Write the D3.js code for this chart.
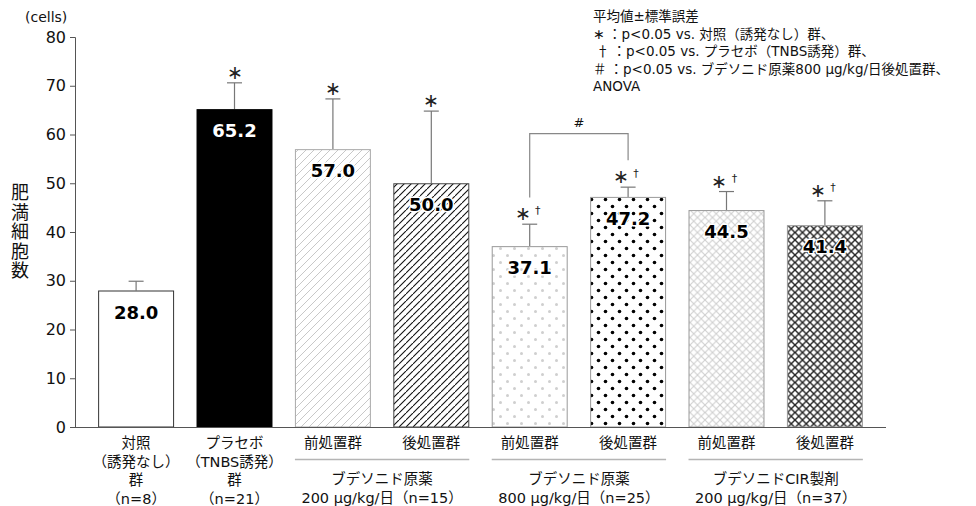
<!DOCTYPE html>
<html>
<head>
<meta charset="utf-8">
<script src="https://cdn.jsdelivr.net/npm/d3@7"></script>
<style>
  html, body { margin: 0; padding: 0; background: #fff; }
  svg { display: block; font-family: "DejaVu Sans", "Noto Sans CJK JP", sans-serif; }
  .sym { font-family: "Noto Sans CJK JP", sans-serif; }
</style>
</head>
<body>
<svg id="chart" width="976" height="506"></svg>
<script>
// Mast cell counts per group (mean ± SE)
const groupKeys = ["ctrl", "placebo", "b200pre", "b200post", "b800pre", "b800post", "cirPre", "cirPost"];
const means = [28.0, 65.2, 57.0, 50.0, 37.1, 47.2, 44.5, 41.4];
const upperSE = [29.9, 70.6, 67.3, 64.8, 41.6, 49.2, 48.3, 46.4];
const starMarks = ["", "∗", "∗", "∗", "∗", "∗", "∗", "∗"];
const daggerMarks = ["", "", "", "", "†", "†", "†", "†"];
const barLabels = [
  ["対照", "（誘発なし）", "群", "（n=8）"],
  ["プラセボ", "（TNBS誘発）", "群", "（n=21）"],
  ["前処置群"], ["後処置群"], ["前処置群"], ["後処置群"], ["前処置群"], ["後処置群"]
];
const groupSpans = [
  { from: "b200pre", to: "b200post", lines: ["ブデソニド原薬", "200 μg/kg/日（n=15）"] },
  { from: "b800pre", to: "b800post", lines: ["ブデソニド原薬", "800 μg/kg/日（n=25）"] },
  { from: "cirPre", to: "cirPost", lines: ["ブデソニドCIR製剤", "200 μg/kg/日（n=37）"] }
];
const yTicks = [0, 10, 20, 30, 40, 50, 60, 70, 80];
// statistical note: [symbol, text]
const noteLines = [
  ["", "平均値±標準誤差"],
  ["∗", "：p<0.05 vs. 対照（誘発なし）群、"],
  ["†", "：p<0.05 vs. プラセボ（TNBS誘発）群、"],
  ["＃", "：p<0.05 vs. ブデソニド原薬800 μg/kg/日後処置群、"],
  ["", "ANOVA"]
];

const svg = d3.select("#chart");

const x = d3.scaleBand().domain(groupKeys).range([75, 886])
  .paddingInner(0.228).paddingOuter(0.235);
const y = d3.scaleLinear().domain([0, 80]).range([427, 37]);

// fill patterns
const defs = svg.append("defs");
function hatch(id, size, color, width) {
  const p = defs.append("pattern").attr("id", id).attr("patternUnits", "userSpaceOnUse")
    .attr("width", size).attr("height", size);
  p.append("rect").attr("width", size).attr("height", size).attr("fill", "#fff");
  p.append("path").attr("d", `M0,${size} L${size},0 M${-size},${size} L0,0 M${size},${2*size} L${2*size},${size}`)
    .attr("stroke", color).attr("stroke-width", width).attr("fill", "none");
}
function dots(id, dx, dy, r, color) {
  const p = defs.append("pattern").attr("id", id).attr("patternUnits", "userSpaceOnUse")
    .attr("width", dx).attr("height", dy * 2);
  p.append("rect").attr("width", dx).attr("height", dy * 2).attr("fill", "#fff");
  p.append("circle").attr("cx", dx / 4).attr("cy", dy / 2).attr("r", r).attr("fill", color);
  p.append("circle").attr("cx", dx * 3 / 4).attr("cy", dy * 1.5).attr("r", r).attr("fill", color);
}
function cross(id, size, color, width) {
  const p = defs.append("pattern").attr("id", id).attr("patternUnits", "userSpaceOnUse")
    .attr("width", size).attr("height", size);
  p.append("rect").attr("width", size).attr("height", size).attr("fill", "#fff");
  p.append("path").attr("d", `M0,0 L${size},${size} M0,${size} L${size},0`)
    .attr("stroke", color).attr("stroke-width", width).attr("fill", "none");
}
hatch("hatchLight", 8, "#c8c8c8", 1);
hatch("hatchDark", 7, "#111", 1.1);
dots("dotLight", 14, 7, 1.5, "#cfcfcf");
dots("dotDark", 14, 7, 1.8, "#000");
cross("crossLight", 7.5, "#cfcfcf", 1.1);
cross("crossDark", 7.5, "#222", 1.4);

const fills = ["#fff", "#000", "url(#hatchLight)", "url(#hatchDark)", "url(#dotLight)", "url(#dotDark)", "url(#crossLight)", "url(#crossDark)"];
const strokes = ["#333", "#000", "#aaa", "#444", "#999", "#999", "#999", "#999"];

const data = groupKeys.map((k, i) => ({
  key: k, mean: means[i], upper: upperSE[i], star: starMarks[i], dagger: daggerMarks[i],
  fill: fills[i], stroke: strokes[i], labels: barLabels[i]
}));

// error bars (upper side only)
const eb = svg.append("g");
data.forEach(d => {
  const cx = x(d.key) + x.bandwidth() / 2;
  eb.append("line").attr("x1", cx).attr("x2", cx).attr("y1", y(d.mean)).attr("y2", y(d.upper))
    .attr("stroke", "#777").attr("stroke-width", 1.2);
  eb.append("line").attr("x1", cx - 7.5).attr("x2", cx + 7.5).attr("y1", y(d.upper)).attr("y2", y(d.upper))
    .attr("stroke", "#777").attr("stroke-width", 1.2);
});

// bars
svg.append("g").selectAll("rect").data(data).join("rect")
  .attr("x", d => x(d.key) + 0.5)
  .attr("y", d => y(d.mean) + 0.5)
  .attr("width", x.bandwidth() - 1)
  .attr("height", d => y(0) - y(d.mean) - 0.5)
  .attr("fill", d => d.fill)
  .attr("stroke", d => d.stroke)
  .attr("stroke-width", 1);

// value labels
svg.append("g").selectAll("text").data(data).join("text")
  .attr("x", d => x(d.key) + x.bandwidth() / 2)
  .attr("y", d => y(d.mean) + 28)
  .attr("text-anchor", "middle")
  .attr("font-size", 18).attr("font-weight", "bold")
  .attr("fill", (d, i) => i === 1 ? "#fff" : "#000")
  .attr("stroke", (d, i) => i === 1 ? "none" : "#fff")
  .attr("stroke-width", 3).attr("paint-order", "stroke")
  .attr("stroke-linejoin", "round")
  .text(d => d.mean.toFixed(1));

// significance marks
const sig = svg.append("g");
data.forEach(d => {
  if (!d.star) return;
  const cx = x(d.key) + x.bandwidth() / 2;
  const yy = y(d.upper) - 6;
  const off = d.dagger ? -7 : 0;
  sig.append("text").attr("class", "sym").attr("x", cx + off).attr("y", yy + 2)
    .attr("text-anchor", "middle").attr("font-size", 19).attr("fill", "#222").text(d.star);
  if (d.dagger) {
    sig.append("text").attr("x", cx + 8).attr("y", yy - 4).attr("text-anchor", "middle")
      .attr("font-size", 11).attr("fill", "#222").text(d.dagger);
  }
});

// bracket between 800 μg groups
const bx1 = x("b800pre") + x.bandwidth() / 2, bx2 = x("b800post") + x.bandwidth() / 2;
const bTop = y(60.2);
svg.append("path")
  .attr("d", `M${bx1},${y(47.1)} V${bTop} H${bx2} V${y(54.7)}`)
  .attr("fill", "none").attr("stroke", "#888").attr("stroke-width", 1.2);
svg.append("text").attr("x", (bx1 + bx2) / 2).attr("y", bTop - 7).attr("text-anchor", "middle")
  .attr("font-size", 13).attr("fill", "#111").text("#");

// y axis
const yAxis = svg.append("g").attr("transform", "translate(75,0)")
  .call(d3.axisLeft(y).tickValues(yTicks).tickSize(5).tickPadding(4));
yAxis.select(".domain").attr("stroke", "#555");
yAxis.selectAll(".tick line").attr("stroke", "#555");
yAxis.selectAll(".tick text").attr("font-size", 16).attr("fill", "#111")
  .attr("font-family", "'DejaVu Sans', sans-serif");

// baseline
svg.append("line").attr("x1", 75).attr("x2", 886).attr("y1", y(0) + 0.5).attr("y2", y(0) + 0.5)
  .attr("stroke", "#555").attr("stroke-width", 1);

svg.append("text").attr("x", 25).attr("y", 22).attr("font-size", 14).attr("fill", "#111").text("(cells)");

// vertical y title
const yTitle = "肥満細胞数";
svg.append("g").selectAll("text").data(Array.from(yTitle)).join("text")
  .attr("x", 20).attr("y", (d, i) => 199 + i * 19.5)
  .attr("text-anchor", "middle").attr("font-size", 18).attr("fill", "#111").text(d => d);

// category labels
const cat = svg.append("g");
data.forEach(d => {
  const cx = x(d.key) + x.bandwidth() / 2;
  d.labels.forEach((t, j) => {
    cat.append("text").attr("x", cx).attr("y", 448 + j * 18.5).attr("text-anchor", "middle")
      .attr("font-size", 14.5).attr("fill", "#111").text(t);
  });
});

// group spans
groupSpans.forEach(g => {
  const x1 = x(g.from), x2 = x(g.to) + x.bandwidth();
  svg.append("line").attr("x1", x1).attr("x2", x2).attr("y1", 459.5).attr("y2", 459.5)
    .attr("stroke", "#b5b5b5").attr("stroke-width", 1.5);
  g.lines.forEach((t, j) => {
    svg.append("text").attr("x", (x1 + x2) / 2).attr("y", 484 + j * 18.5).attr("text-anchor", "middle")
      .attr("font-size", 14.5).attr("fill", "#111").text(t);
  });
});

// statistical note
const note = svg.append("g").selectAll("text").data(noteLines).join("text")
  .attr("x", 593).attr("y", (d, i) => 21 + i * 17.5)
  .attr("font-size", 13.5).attr("fill", "#111");
note.filter(d => d[0]).append("tspan").attr("class", "sym")
  .attr("dx", d => d[0] === "†" ? 3 : 0)
  .text(d => d[0]);
note.append("tspan").attr("dx", d => d[0] ? 3 : 0).text(d => d[1]);
</script>
</body>
</html>
